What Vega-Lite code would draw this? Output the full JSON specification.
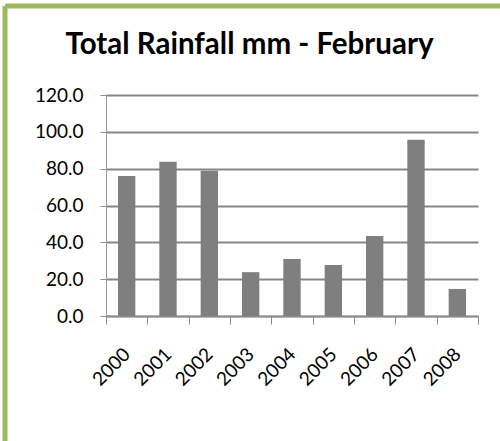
{
  "$schema": "https://vega.github.io/schema/vega-lite/v6.json",
  "autosize": "none",
  "width": 495,
  "height": 435,
  "padding": {"left": 5, "top": 6, "right": 0, "bottom": 0},
  "background": "white",
  "config": {
    "view": {"stroke": "#9BBB59", "strokeWidth": 5, "strokeDash": [495, 930, 435, 0], "fill": "white"},
    "font": "Lato"
  },
  "title": {
    "text": "Total Rainfall mm - February",
    "font": "Lato",
    "fontSize": 29.5,
    "fontWeight": "bold",
    "color": "#000000",
    "anchor": "middle",
    "frame": "group",
    "baseline": "alphabetic",
    "offset": 0,
    "dx": -3,
    "dy": 77
  },
  "data": {
    "values": [
      {"year": "2000", "rain": 76.0},
      {"year": "2001", "rain": 83.8},
      {"year": "2002", "rain": 78.9},
      {"year": "2003", "rain": 23.8},
      {"year": "2004", "rain": 30.9},
      {"year": "2005", "rain": 27.7},
      {"year": "2006", "rain": 43.5},
      {"year": "2007", "rain": 95.7},
      {"year": "2008", "rain": 14.7}
    ]
  },
  "mark": {"type": "bar", "color": "#7F7F7F", "width": {"band": 0.42}},
  "encoding": {
    "x": {
      "field": "year",
      "type": "nominal",
      "scale": {"range": [101, 473], "paddingInner": 0, "paddingOuter": 0},
      "axis": {
        "title": null,
        "offset": -125,
        "labelAngle": -45,
        "labelAlign": "right",
        "labelBaseline": "middle",
        "labelFont": "Lato",
        "labelFontSize": 19,
        "labelColor": "#000000",
        "labelPadding": 27,
        "tickBand": "extent",
        "tickSize": 8,
        "tickColor": "#8C8C8C",
        "domainColor": "#8C8C8C",
        "domainWidth": 1.5,
        "grid": false
      }
    },
    "y": {
      "field": "rain",
      "type": "quantitative",
      "scale": {"domain": [0, 120], "range": [310, 89], "nice": false},
      "axis": {
        "title": null,
        "offset": -101,
        "values": [0, 20, 40, 60, 80, 100, 120],
        "format": ".1f",
        "labelFont": "Lato",
        "labelFontSize": 19,
        "labelColor": "#000000",
        "labelPadding": 17,
        "tickSize": 6,
        "tickColor": "#8C8C8C",
        "domainColor": "#9A9A9A",
        "grid": true,
        "gridColor": "#868686",
        "gridWidth": 2,
        "gridOpacity": 1
      }
    }
  }
}
